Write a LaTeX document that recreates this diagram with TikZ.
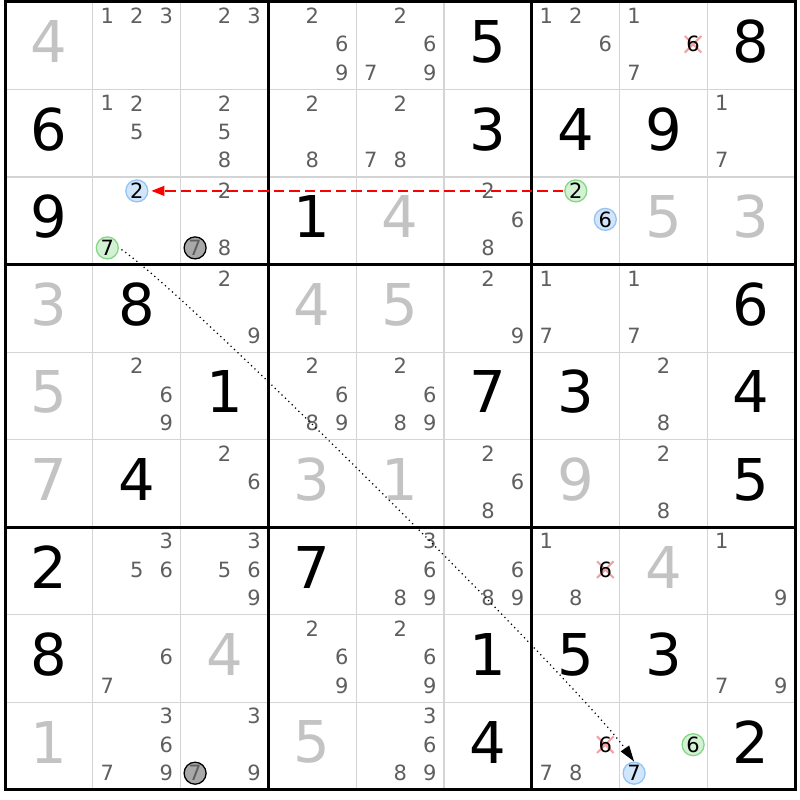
\documentclass[tikz,border=0pt]{standalone}
\usepackage{fontspec}
\setmainfont{DejaVu Sans}
\usetikzlibrary{arrows.meta}
\definecolor{candgray}{HTML}{5F5F5F}
\definecolor{givengray}{HTML}{C3C3C3}
\definecolor{thinline}{HTML}{D4D4D4}
\definecolor{bluefill}{HTML}{D2E6FB}
\definecolor{bluedraw}{HTML}{94C4F4}
\definecolor{greenfill}{HTML}{D3F1D3}
\definecolor{greendraw}{HTML}{86D686}
\definecolor{grayfill}{HTML}{A8A8A8}
\definecolor{xred}{HTML}{F4A0A0}
\tikzset{
 cand/.style={inner sep=0pt, text=candgray, font=\fontsize{21}{23}\selectfont},
 bigblack/.style={inner sep=0pt, text=black, font=\fontsize{57.6}{60}\selectfont},
 biggray/.style={bigblack, text=givengray},
 bluec/.style={circle, minimum size=22pt, inner sep=0pt, draw=bluedraw, fill=bluefill, line width=1.3pt, text=black, font=\fontsize{21}{23}\selectfont},
 greenc/.style={bluec, draw=greendraw, fill=greenfill},
 grayc/.style={bluec, draw=black, fill=grayfill, text=candgray},
 xmark/.style={draw=xred, line width=2pt},
 gridthin/.style={draw=thinline, line width=1.2pt},
 gridthick/.style={draw=black, line width=3pt},
 redarrow/.style={draw=red, line width=1.3pt, dash pattern=on 10.5pt off 5pt, -{Triangle[length=13pt,width=10pt]}, shorten <=1pt, shorten >=3pt},
 dotarrow/.style={draw=black, line width=1.25pt, dash pattern=on 1.2pt off 3.5pt, -{Triangle[length=16pt,width=10pt]}, shorten <=3pt}
}
\begin{document}
\begin{tikzpicture}[x=1pt,y=1pt]
\useasboundingbox (0,0) rectangle (800,800);
\fill[white] (0,0) rectangle (800,800);
% grid
\foreach \i in {1,2,4,5,7,8}{
  \draw[gridthin] ({5+\i*87.8},798) -- ({5+\i*87.8},{798-9*87.55});
  \draw[gridthin] (5,{798-\i*87.55}) -- ({5+9*87.8},{798-\i*87.55});
}
\foreach \i in {3,6}{
  \draw[gridthick] ({5+\i*87.8},798) -- ({5+\i*87.8},{798-9*87.55});
  \draw[gridthick] (5,{798-\i*87.55}) -- ({5+9*87.8},{798-\i*87.55});
}
\draw[gridthick] (5,798) rectangle ({5+9*87.8},{798-9*87.55});
% given digits (gray)
\foreach \r/\c/\d in {1/1/4,3/5/4,3/8/5,3/9/3,4/1/3,4/4/4,4/5/5,5/1/5,6/1/7,6/4/3,6/5/1,6/7/9,7/8/4,8/3/4,9/1/1,9/4/5}{
  \node[biggray] (g-\r-\c) at ({5+(\c-1)*87.8+43.9},{798-(\r-1)*87.55-39.8}) {\d};
}
% placed digits (black)
\foreach \r/\c/\d in {1/6/5,1/9/8,2/1/6,2/6/3,2/7/4,2/8/9,3/1/9,3/4/1,4/2/8,4/9/6,5/3/1,5/6/7,5/7/3,5/9/4,6/2/4,6/9/5,7/1/2,7/4/7,8/1/8,8/6/1,8/7/5,8/8/3,9/6/4,9/9/2}{
  \node[bigblack] (d-\r-\c) at ({5+(\c-1)*87.8+43.9},{798-(\r-1)*87.55-39.8}) {\d};
}
% candidates
\foreach \r/\c/\L in {1/2/{1,2,3},1/3/{2,3},1/4/{2,6,9},1/5/{2,6,7,9},1/7/{1,2,6},1/8/{1,7},
 2/2/{1,2,5},2/3/{2,5,8},2/4/{2,8},2/5/{2,7,8},2/9/{1,7},
 3/3/{2,8},3/6/{2,6,8},
 4/3/{2,9},4/6/{2,9},4/7/{1,7},4/8/{1,7},
 5/2/{2,6,9},5/4/{2,6,8,9},5/5/{2,6,8,9},5/8/{2,8},
 6/3/{2,6},6/6/{2,6,8},6/8/{2,8},
 7/2/{3,5,6},7/3/{3,5,6,9},7/5/{3,6,8,9},7/6/{6,8,9},7/7/{1,8},7/9/{1,9},
 8/2/{6,7},8/4/{2,6,9},8/5/{2,6,9},8/9/{7,9},
 9/2/{3,6,7,9},9/3/{3,9},9/5/{3,6,8,9},9/7/{7,8}}{
  \foreach \k in \L {
    \pgfmathsetmacro\cx{5+(\c-1)*87.8+14.5+29.5*mod(\k-1,3)}
    \pgfmathsetmacro\cy{798-(\r-1)*87.55-13.8-28.5*int((\k-1)/3)}
    \node[cand] (n-\r-\c-\k) at (\cx,\cy) {\k};
  }
}
% eliminated candidates
\foreach \r/\c in {1/8,7/7,9/7}{
  \pgfmathsetmacro\cx{5+(\c-1)*87.8+14.5+29.5*2}
  \pgfmathsetmacro\cy{798-(\r-1)*87.55-13.8-28.5}
  \coordinate (xc-\r-\c) at (\cx,\cy);
  \draw[xmark] ([shift={(-8.3,-8.3)}]xc-\r-\c) -- ([shift={(8.3,8.3)}]xc-\r-\c);
  \draw[xmark] ([shift={(-8.3,8.3)}]xc-\r-\c) -- ([shift={(8.3,-8.3)}]xc-\r-\c);
  \node[cand, text=black] (x-\r-\c) at (xc-\r-\c) {6};
}
% highlighted candidates
\foreach \r/\c/\k/\nm in {3/2/2/b2,3/7/6/b6,9/8/7/b7}{
  \pgfmathsetmacro\cx{5+(\c-1)*87.8+14.5+29.5*mod(\k-1,3)}
  \pgfmathsetmacro\cy{798-(\r-1)*87.55-13.8-28.5*int((\k-1)/3)}
  \node[bluec] (\nm) at (\cx,\cy) {\k};
}
\foreach \r/\c/\k/\nm in {3/2/7/g7,3/7/2/g2,9/8/6/g6}{
  \pgfmathsetmacro\cx{5+(\c-1)*87.8+14.5+29.5*mod(\k-1,3)}
  \pgfmathsetmacro\cy{798-(\r-1)*87.55-13.8-28.5*int((\k-1)/3)}
  \node[greenc] (\nm) at (\cx,\cy) {\k};
}
\foreach \r/\c/\k/\nm in {3/3/7/gc1,9/3/7/gc2}{
  \pgfmathsetmacro\cx{5+(\c-1)*87.8+14.5+29.5*mod(\k-1,3)}
  \pgfmathsetmacro\cy{798-(\r-1)*87.55-13.8-28.5*int((\k-1)/3)}
  \node[grayc] (\nm) at (\cx,\cy) {\k};
}
% links
\draw[redarrow] (g2) -- (b2);
\draw[dotarrow] (g7.east) to[out=-34,in=125,looseness=0.3] (b7.north);
\end{tikzpicture}
\end{document}
